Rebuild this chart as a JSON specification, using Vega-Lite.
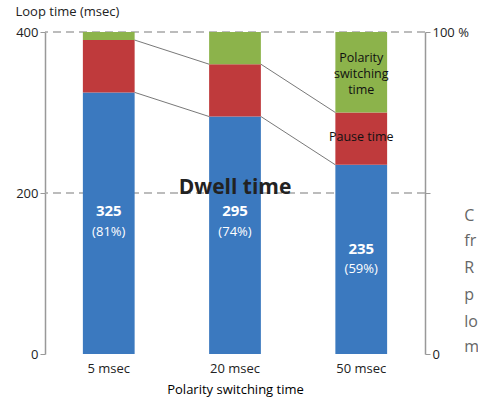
{
  "$schema": "https://vega.github.io/schema/vega-lite/v6.json",
  "width": 380,
  "height": 322,
  "autosize": "none",
  "padding": {"left": 45, "top": 32, "right": 53, "bottom": 56},
  "datasets": {
    "bars": [
      {"cat": "5 msec", "part": "Dwell time", "order": 1, "value": 325},
      {"cat": "5 msec", "part": "Pause time", "order": 2, "value": 65},
      {"cat": "5 msec", "part": "Polarity switching", "order": 3, "value": 10},
      {"cat": "20 msec", "part": "Dwell time", "order": 1, "value": 295},
      {"cat": "20 msec", "part": "Pause time", "order": 2, "value": 65},
      {"cat": "20 msec", "part": "Polarity switching", "order": 3, "value": 40},
      {"cat": "50 msec", "part": "Dwell time", "order": 1, "value": 235},
      {"cat": "50 msec", "part": "Pause time", "order": 2, "value": 65},
      {"cat": "50 msec", "part": "Polarity switching", "order": 3, "value": 100}
    ],
    "links": [
      {"from": "5 msec", "to": "20 msec", "y1": 325, "y2": 295},
      {"from": "20 msec", "to": "50 msec", "y1": 295, "y2": 235},
      {"from": "5 msec", "to": "20 msec", "y1": 390, "y2": 360},
      {"from": "20 msec", "to": "50 msec", "y1": 360, "y2": 300}
    ],
    "labels": [
      {"cat": "5 msec", "v": 178, "t": "325", "kind": "num"},
      {"cat": "5 msec", "v": 152, "t": "(81%)", "kind": "pct"},
      {"cat": "20 msec", "v": 178, "t": "295", "kind": "num"},
      {"cat": "20 msec", "v": 152, "t": "(74%)", "kind": "pct"},
      {"cat": "50 msec", "v": 130, "t": "235", "kind": "num"},
      {"cat": "50 msec", "v": 105, "t": "(59%)", "kind": "pct"}
    ],
    "notes": [
      {"cat": "20 msec", "v": 206, "t": "Dwell time", "kind": "big"},
      {"cat": "50 msec", "v": 270, "t": "Pause time", "kind": "small"},
      {"cat": "50 msec", "v": 368, "t": "Polarity", "kind": "small"},
      {"cat": "50 msec", "v": 348, "t": "switching", "kind": "small"},
      {"cat": "50 msec", "v": 328, "t": "time", "kind": "small"}
    ],
    "side": [
      {"cat": "50 msec", "v": 171, "t": "C"},
      {"cat": "50 msec", "v": 140, "t": "fr"},
      {"cat": "50 msec", "v": 107, "t": "R"},
      {"cat": "50 msec", "v": 73, "t": "p"},
      {"cat": "50 msec", "v": 40, "t": "lo"},
      {"cat": "50 msec", "v": 9, "t": "m"}
    ],
    "grid": [{"v": 200}, {"v": 400}],
    "pct": [{"p": 0}, {"p": 100}]
  },
  "layer": [
    {
      "layer": [
        {
          "data": {"name": "grid"},
          "mark": {"type": "rule", "color": "#a6a6a6", "strokeDash": [8, 5], "strokeWidth": 1.5},
          "encoding": {"y": {"field": "v", "type": "quantitative"}}
        },
        {
          "data": {"name": "bars"},
          "mark": {"type": "bar"},
          "encoding": {
            "x": {
              "field": "cat", "type": "nominal",
              "scale": {"domain": ["5 msec", "20 msec", "50 msec"], "paddingInner": 0.59, "paddingOuter": 0.3},
              "axis": {"title": "Polarity switching time", "labelAngle": 0, "labelFontSize": 13, "labelColor": "#222", "titleFontSize": 13, "titleFontWeight": "normal", "titleColor": "#000", "ticks": false, "domain": false, "labelPadding": 8, "titlePadding": 8}
            },
            "y": {
              "field": "value", "type": "quantitative", "stack": "zero",
              "scale": {"domain": [0, 400]},
              "axis": {"values": [0, 200, 400], "grid": false, "title": "Loop time (msec)", "titleAngle": 0, "titleX": -30, "titleY": -14, "titleAlign": "left", "titleFontSize": 13, "titleFontWeight": "normal", "titleColor": "#222", "labelFontSize": 13, "labelColor": "#222", "domainColor": "#999", "tickColor": "#999", "domainWidth": 1.5}
            },
            "color": {
              "field": "part", "type": "nominal", "legend": null,
              "scale": {"domain": ["Dwell time", "Pause time", "Polarity switching"], "range": ["#3b79bf", "#bf3a3c", "#8cb34b"]}
            },
            "order": {"field": "order"}
          }
        },
        {
          "data": {"name": "links"},
          "mark": {"type": "rule", "color": "#555", "strokeWidth": 0.8},
          "encoding": {
            "x": {"field": "from", "type": "nominal", "bandPosition": 1},
            "x2": {"field": "to", "bandPosition": 0},
            "y": {"field": "y1", "type": "quantitative"},
            "y2": {"field": "y2"}
          }
        },
        {
          "data": {"name": "labels"},
          "transform": [{"filter": "datum.kind == 'pct'"}],
          "mark": {"type": "text", "color": "white", "font": "Open Sans", "fontSize": 13},
          "encoding": {
            "x": {"field": "cat", "type": "nominal"},
            "y": {"field": "v", "type": "quantitative"},
            "text": {"field": "t"}
          }
        },
        {
          "data": {"name": "labels"},
          "transform": [{"filter": "datum.kind == 'num'"}],
          "mark": {"type": "text", "color": "white", "font": "Open Sans", "fontWeight": "bold", "fontSize": 15},
          "encoding": {
            "x": {"field": "cat", "type": "nominal"},
            "y": {"field": "v", "type": "quantitative"},
            "text": {"field": "t"}
          }
        },
        {
          "data": {"name": "notes"},
          "transform": [{"filter": "datum.kind == 'big'"}],
          "mark": {"type": "text", "color": "#222", "font": "Open Sans", "fontWeight": "bold", "fontSize": 21},
          "encoding": {
            "x": {"field": "cat", "type": "nominal"},
            "y": {"field": "v", "type": "quantitative"},
            "text": {"field": "t"}
          }
        },
        {
          "data": {"name": "notes"},
          "transform": [{"filter": "datum.kind == 'small'"}],
          "mark": {"type": "text", "color": "#111", "font": "Open Sans", "fontSize": 12.5},
          "encoding": {
            "x": {"field": "cat", "type": "nominal"},
            "y": {"field": "v", "type": "quantitative"},
            "text": {"field": "t"}
          }
        },
        {
          "data": {"name": "side"},
          "mark": {"type": "text", "color": "#666", "font": "Open Sans", "fontSize": 16, "align": "left", "dx": 103},
          "encoding": {
            "x": {"field": "cat", "type": "nominal"},
            "y": {"field": "v", "type": "quantitative"},
            "text": {"field": "t"}
          }
        }
      ]
    },
    {
      "data": {"name": "pct"},
      "mark": {"type": "point", "opacity": 0},
      "encoding": {
        "y": {
          "field": "p", "type": "quantitative", "scale": {"domain": [0, 100]},
          "axis": {"orient": "right", "values": [0, 50, 100], "labelExpr": "datum.value == 100 ? '100 %' : datum.value == 0 ? '0' : ''", "title": null, "grid": false, "labelFontSize": 13, "labelColor": "#222", "domainColor": "#999", "tickColor": "#999", "domainWidth": 1.5}
        }
      }
    }
  ],
  "resolve": {"scale": {"y": "independent"}},
  "config": {"view": {"stroke": null}, "font": "Open Sans"}
}
